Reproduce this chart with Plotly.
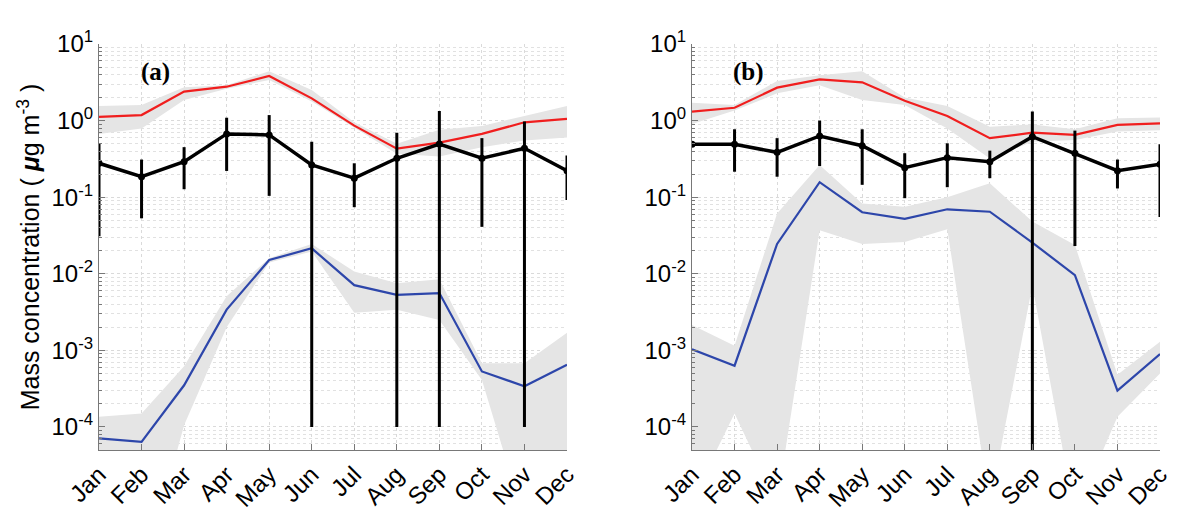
import plotly.graph_objects as go
from plotly.subplots import make_subplots

months = ["Jan", "Feb", "Mar", "Apr", "May", "Jun", "Jul", "Aug", "Sep", "Oct", "Nov", "Dec"]
x_idx = list(range(1, 13))

# ---------- panel (a) ----------
a_red = [1.12, 1.18, 2.39, 2.77, 3.82, 1.95, 0.86, 0.43, 0.515, 0.67, 0.95, 1.05]
a_red_hi = [1.55, 1.6, 2.72, 2.9, 4.4, 2.5, 0.95, 0.5, 0.76, 0.85, 1.15, 1.55]
a_red_lo = [0.67, 0.79, 1.86, 2.6, 3.4, 1.77, 0.8, 0.37, 0.34, 0.45, 0.55, 0.6]

a_blue = [7.1e-5, 6.4e-5, 3.5e-4, 3.4e-3, 0.0151, 0.0215, 7.1e-3, 5.3e-3, 5.6e-3, 5.3e-4, 3.4e-4, 6.5e-4]
a_blue_hi = [1.36e-4, 1.5e-4, 6.2e-4, 5.1e-3, 0.016, 0.0245, 0.0107, 7.5e-3, 8.5e-3, 6.8e-4, 6.8e-4, 1.7e-3]
a_blue_lo = [3e-5, 1e-6, 1.05e-4, 2.0e-3, 0.014, 0.0195, 3.1e-3, 3.4e-3, 2.5e-3, 4.1e-4, 6e-6, 3e-5]

a_black = [0.277, 0.185, 0.29, 0.67, 0.65, 0.263, 0.177, 0.322, 0.495, 0.322, 0.435, 0.222]
a_black_top = [0.506, 0.31, 0.45, 1.09, 1.18, 0.53, 0.277, 0.695, 1.33, 0.59, 0.97, 0.35]
a_black_bot = [0.031, 0.053, 0.127, 0.22, 0.104, 1e-4, 0.074, 1e-4, 1e-4, 0.041, 1e-4, 0.092]

# ---------- panel (b) ----------
b_red = [1.31, 1.47, 2.69, 3.46, 3.16, 1.82, 1.15, 0.59, 0.695, 0.65, 0.88, 0.92]
b_red_hi = [1.71, 1.6, 3.3, 3.9, 4.4, 2.0, 1.55, 0.83, 0.89, 0.77, 1.07, 1.1]
b_red_lo = [0.9, 1.35, 2.27, 2.9, 1.86, 1.6, 0.79, 0.32, 0.53, 0.56, 0.72, 0.75]

b_blue = [1.03e-3, 6.3e-4, 0.0245, 0.157, 0.0636, 0.052, 0.0695, 0.0646, 0.0255, 9.6e-3, 2.98e-4, 8.97e-4]
b_blue_hi = [2.15e-3, 1.15e-3, 0.061, 0.263, 0.083, 0.075, 0.1, 0.152, 0.048, 0.0238, 4.8e-4, 1.3e-3]
b_blue_lo = [1.1e-5, 1.5e-4, 1e-5, 0.037, 0.0245, 0.026, 0.038, 9.6e-6, 7e-3, 7e-6, 1.36e-4, 5e-4]

b_black = [0.49, 0.49, 0.385, 0.63, 0.47, 0.243, 0.328, 0.291, 0.617, 0.375, 0.222, 0.27]
b_black_top = [0.49, 0.77, 0.59, 1.0, 0.77, 0.375, 0.505, 0.405, 1.31, 0.74, 0.31, 0.49]
b_black_bot = [0.49, 0.215, 0.185, 0.255, 0.145, 0.097, 0.135, 0.177, 1e-6, 0.023, 0.13, 0.055]

ytick_vals = [1e-4, 1e-3, 1e-2, 1e-1, 1e0, 1e1]
ytick_text = ["10<sup>-4</sup>", "10<sup>-3</sup>", "10<sup>-2</sup>", "10<sup>-1</sup>",
              "10<sup>0</sup>", "10<sup>1</sup>"]
panel_labels = ["(a)", "(b)"]
y_title = "Mass concentration ( <b><i>μ</i></b>g m<sup>-3</sup> )"

BAND = "rgb(229,229,229)"
RED = "rgb(240,30,30)"
BLUE = "rgb(45,70,170)"
FONT = "Liberation Sans, Arial, sans-serif"

fig = make_subplots(rows=1, cols=2)

panels = [
    (a_red, a_red_hi, a_red_lo, a_blue, a_blue_hi, a_blue_lo, a_black, a_black_top, a_black_bot),
    (b_red, b_red_hi, b_red_lo, b_blue, b_blue_hi, b_blue_lo, b_black, b_black_top, b_black_bot),
]

for col, (red, rhi, rlo, blue, bhi, blo, blk, btop, bbot) in enumerate(panels, start=1):
    for hi, lo in ((rhi, rlo), (bhi, blo)):
        fig.add_trace(go.Scatter(
            x=x_idx + x_idx[::-1], y=hi + lo[::-1], fill="toself", fillcolor=BAND,
            line=dict(width=0), mode="lines", hoverinfo="skip", showlegend=False),
            row=1, col=col)
    fig.add_trace(go.Scatter(x=x_idx, y=red, mode="lines", line=dict(color=RED, width=2.2),
                             showlegend=False), row=1, col=col)
    fig.add_trace(go.Scatter(x=x_idx, y=blue, mode="lines", line=dict(color=BLUE, width=2.2),
                             showlegend=False), row=1, col=col)
    plus = [t - v for t, v in zip(btop, blk)]
    minus = [v - b for v, b in zip(blk, bbot)]
    fig.add_trace(go.Scatter(
        x=x_idx, y=blk, mode="lines+markers",
        line=dict(color="black", width=3.5),
        marker=dict(color="black", size=7),
        error_y=dict(type="data", symmetric=False, array=plus, arrayminus=minus,
                     color="black", thickness=3, width=0),
        showlegend=False), row=1, col=col)

axis_common = dict(
    showline=True, linecolor="rgb(120,120,120)", linewidth=1.2,
    ticks="inside", tickcolor="rgb(120,120,120)", ticklen=6,
    showgrid=True, gridcolor="rgb(218,218,218)", griddash="dot", gridwidth=1,
    zeroline=False, automargin=False,
    tickfont=dict(family=FONT, size=24, color="black"),
)

for col in (1, 2):
    fig.update_xaxes(range=[1, 12], tickvals=x_idx, ticktext=months, tickangle=-45,
                     mirror=False, **axis_common, row=1, col=col)
    fig.update_yaxes(type="log", range=[-4.301, 1], tickvals=ytick_vals, ticktext=ytick_text,
                     minor=dict(dtick="D1", ticks="inside", ticklen=3, tickcolor="rgb(120,120,120)",
                                showgrid=True, gridcolor="rgb(225,225,225)", griddash="dot"),
                     **axis_common, row=1, col=col)

fig.update_yaxes(title=dict(text=y_title, font=dict(family=FONT, size=25, color="black"), standoff=4),
                 row=1, col=1)

fig.update_layout(xaxis=dict(domain=[0, 468 / 1061]), xaxis2=dict(domain=[593 / 1061, 1]))

for i, lab in enumerate(panel_labels):
    xr = "x domain" if i == 0 else "x2 domain"
    yr = "y domain" if i == 0 else "y2 domain"
    fig.add_annotation(text="<b>" + lab + "</b>", xref=xr, yref=yr, x=0.12, y=0.93,
                       showarrow=False, xanchor="center", yanchor="middle",
                       font=dict(family="Liberation Serif, Times New Roman, serif", size=25, color="black"))

fig.update_layout(
    width=1184, height=504,
    margin=dict(l=91, r=32, t=36, b=62),
    paper_bgcolor="white", plot_bgcolor="white",
)

fig.write_html("out.html")
